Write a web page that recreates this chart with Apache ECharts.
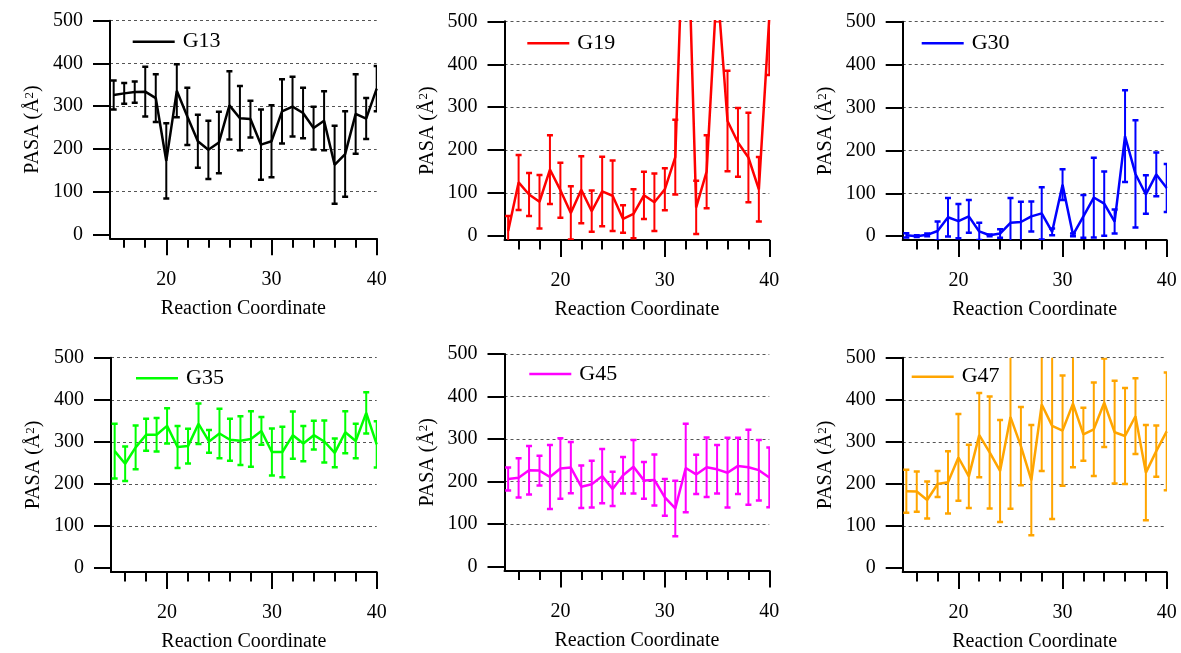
<!DOCTYPE html>
<html>
<head>
<meta charset="utf-8">
<script src="https://cdn.jsdelivr.net/npm/echarts@6/dist/echarts.min.js"></script>
<style>
html,body{margin:0;padding:0;background:#ffffff;}
#chart{width:1181px;height:653px;}
</style>
</head>
<body>
<div id="chart"></div>
<script>
// ---------------- data ----------------
const reactionCoord = [15,16,17,18,19,20,21,22,23,24,25,26,27,28,29,30,31,32,33,34,35,36,37,38,39,40];
const xMinorTickValues = [16,18,22,24,26,28,32,34,36,38];
const xLabelValues = [20,30,40];
const yTickValues = [0,100,200,300,400,500];
const yGridValues = [100,200,300,400,500];
const seriesNames = ['G13','G19','G30','G35','G45','G47'];
const xAxisTitle = 'Reaction Coordinate';
const yAxisTitle = '{n|PASA (Å}{s|2}{n|)}';

const g13Mean = [326,330,333,334,319,172,336,276,218,198,215,302,272,270,210,218,288,299,284,249,266,163,188,282,271,341];
const g13Err  = [34,24,25,58,56,88,62,67,62,68,72,80,75,43,82,84,75,70,59,50,69,91,100,93,48,53];

const g19Mean = [12,125,97,80,155,107,54,108,58,104,94,40,52,95,79,109,184,900,67,150,590,268,218,183,109,510];
const g19Err  = [35,64,50,62,80,64,62,78,48,81,82,32,57,55,67,49,87,100,62,85,90,117,80,104,75,135];

const g30Mean = [2,0,3,12,44,35,46,11,2,6,31,33,46,53,10,120,3,46,90,76,34,233,145,97,144,112];
const g30Err  = [5,2,3,22,45,40,38,20,2,10,58,47,35,61,8,36,3,50,93,75,28,107,125,45,51,56];

const g35Mean = [278,248,287,317,317,338,288,290,343,301,320,305,303,307,326,276,276,316,296,316,301,274,323,302,369,294];
const g35Err  = [65,41,52,38,40,42,50,41,48,27,59,50,58,66,33,56,60,56,42,34,50,34,50,41,49,55];

const g45Mean = [206,209,227,226,211,231,233,188,194,213,183,215,235,203,204,163,137,232,217,234,229,221,237,234,227,210];
const g45Err  = [27,46,57,35,75,71,60,50,55,64,40,43,63,43,60,43,65,104,46,70,57,82,66,88,71,70];

const g47Mean = [183,182,162,200,204,263,218,316,275,231,359,290,209,389,338,327,391,318,330,393,323,314,361,227,278,325];
const g47Err  = [51,48,44,31,74,103,75,100,133,121,218,93,131,158,221,131,151,63,111,105,122,114,90,113,61,140];

const seriesMeans = [g13Mean,g19Mean,g30Mean,g35Mean,g45Mean,g47Mean];
const seriesErrs  = [g13Err,g19Err,g30Err,g35Err,g45Err,g47Err];
const seriesColors = ['#000000','#ff0000','#0000ff','#00ff00','#ff00ff','#ffa500'];

// ---------------- layout ----------------
const FONT = '"Liberation Serif","Times New Roman",serif';
const X_MIN = 14.65, X_MAX = 40, Y_MIN = -9, Y_MAX = 500;
const panelBoxes = [
  {left:110,   top:20.7,  width:266.7, height:217.6, legLeft:132.7, legCy:41.7},
  {left:504.5, top:21.3,  width:264.8, height:218.7, legLeft:527.3, legCy:43.3},
  {left:902.7, top:21.7,  width:264.0, height:218.3, legLeft:921.7, legCy:43.3},
  {left:111,   top:357.7, width:265.7, height:217.2, legLeft:136,   legCy:378.3},
  {left:504.5, top:354,   width:264.8, height:216.6, legLeft:529.3, legCy:374},
  {left:902.7, top:357.7, width:264.0, height:217.2, legLeft:911.7, legCy:376.7}
];

const option = {
  animation:false,
  backgroundColor:'#ffffff',
  grid:[], xAxis:[], yAxis:[], series:[], legend:[]
};

const black = '#000000';
panelBoxes.forEach((b,i)=>{
  const color = seriesColors[i];
  option.grid.push({left:b.left, top:b.top, width:b.width, height:b.height});
  // main x axis: line, major ticks, labels, title
  option.xAxis.push({
    type:'value', gridIndex:i, min:X_MIN, max:X_MAX, position:'bottom',
    name:xAxisTitle, nameLocation:'middle', nameGap:60,
    nameTextStyle:{fontFamily:FONT, fontSize:20, color:black},
    axisLine:{show:true, onZero:false, lineStyle:{color:black, width:2}},
    axisTick:{show:true, inside:false, length:17, customValues:xLabelValues, lineStyle:{color:black, width:2}},
    axisLabel:{show:true, customValues:xLabelValues, margin:31, fontFamily:FONT, fontSize:20, color:black},
    splitLine:{show:false}
  });
  // minor ticks x axis
  option.xAxis.push({
    type:'value', gridIndex:i, min:X_MIN, max:X_MAX, position:'bottom',
    axisLine:{show:false, onZero:false},
    axisTick:{show:true, inside:false, length:9.5, customValues:xMinorTickValues, lineStyle:{color:black, width:2}},
    axisLabel:{show:false},
    splitLine:{show:false}
  });
  // main y axis
  option.yAxis.push({
    type:'value', gridIndex:i, min:Y_MIN, max:Y_MAX, position:'left',
    name:yAxisTitle, nameLocation:'middle', nameGap:67, nameRotate:90,
    nameTextStyle:{
      fontFamily:FONT, fontSize:20, color:black,
      rich:{
        n:{fontFamily:FONT, fontSize:20, lineHeight:20, color:black, padding:[9,0,0,0], verticalAlign:'bottom'},
        s:{fontFamily:FONT, fontSize:13, lineHeight:13, color:black, verticalAlign:'top'}
      }
    },
    axisLine:{show:true, onZero:false, lineStyle:{color:black, width:2}},
    axisTick:{show:true, inside:false, length:17, customValues:yTickValues, lineStyle:{color:black, width:2}},
    axisLabel:{show:true, customValues:yTickValues, margin:27, fontFamily:FONT, fontSize:20, color:black},
    splitLine:{show:false}
  });
  // grid-line y axis
  option.yAxis.push({
    type:'value', gridIndex:i, min:Y_MIN, max:Y_MAX, position:'left',
    axisLine:{show:false, onZero:false},
    axisTick:{show:false, customValues:yGridValues},
    axisLabel:{show:false},
    splitLine:{show:true, lineStyle:{color:'#555555', width:1, type:[3,3]}}
  });

  const mean = seriesMeans[i], err = seriesErrs[i];
  option.series.push({
    name:seriesNames[i], type:'line', xAxisIndex:2*i, yAxisIndex:2*i,
    data:reactionCoord.map((x,k)=>[x, mean[k]]),
    symbol:'none', clip:true, z:3,
    color:color, itemStyle:{color:color},
    lineStyle:{color:color, width:2.5}
  });
  option.series.push({
    name:seriesNames[i]+' error', type:'custom', xAxisIndex:2*i, yAxisIndex:2*i,
    data:reactionCoord.map((x,k)=>[x, mean[k]-err[k], mean[k]+err[k]]),
    clip:true, z:2,
    renderItem:(params, api)=>{
      const x = api.value(0);
      const pLo = api.coord([x, api.value(1)]);
      const pHi = api.coord([x, api.value(2)]);
      const w = 3;
      const st = {stroke:color, lineWidth:2};
      return {type:'group', children:[
        {type:'line', shape:{x1:pHi[0], y1:pHi[1], x2:pLo[0], y2:pLo[1]}, style:st},
        {type:'line', shape:{x1:pHi[0]-w, y1:pHi[1], x2:pHi[0]+w, y2:pHi[1]}, style:{stroke:color, lineWidth:2.5}},
        {type:'line', shape:{x1:pLo[0]-w, y1:pLo[1], x2:pLo[0]+w, y2:pLo[1]}, style:{stroke:color, lineWidth:2.5}}
      ]};
    }
  });
  option.legend.push({
    data:[seriesNames[i]], left:b.legLeft, top:b.legCy-11, padding:0,
    icon:'rect', itemWidth:42, itemHeight:2.5, selectedMode:false,
    textStyle:{fontFamily:FONT, fontSize:22, color:black, padding:[0,0,0,3]}
  });
});

const chart = echarts.init(document.getElementById('chart'), null, {renderer:'canvas'});
chart.setOption(option);
</script>
</body>
</html>
